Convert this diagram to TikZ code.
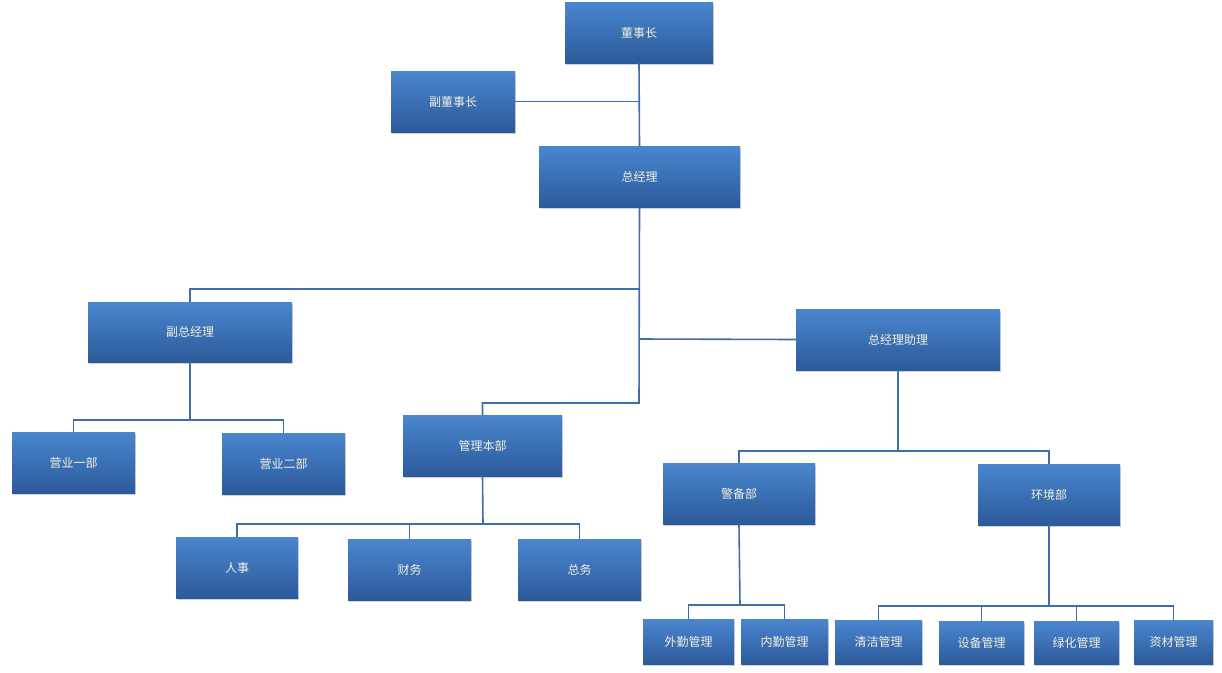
\documentclass[tikz,border=0pt]{standalone}
\usepackage{fontspec}
\setmainfont{Noto Sans CJK SC}
\usetikzlibrary{shadows}
\definecolor{BoxTop}{HTML}{4A86CF}
\definecolor{BoxBottom}{HTML}{2C5A9A}
\definecolor{LineBlue}{HTML}{3F6DAA}
\definecolor{TextLight}{HTML}{F4F1DC}
\tikzset{
    box/.style={draw=none, top color=BoxTop, bottom color=BoxBottom, text=TextLight,
        font=\fontsize{12}{14}\selectfont, inner sep=0pt, drop shadow={shadow xshift=1pt, shadow yshift=-1.5pt, opacity=0.35}},
    link/.style={draw=LineBlue, line width=1.6pt}
}
% box at l,t,r,b pixel edges
\newcommand{\orgbox}[6]{%
    \node[box, minimum width=#4-#2, minimum height=#5-#3] (#1) at ({(#2+#4)/2},{(#3+#5)/2}) {#6};
}
\begin{document}
\begin{tikzpicture}[x=1pt, y=-1pt]
\useasboundingbox (0,0) rectangle (1222,672);
\fill[white] (0,0) rectangle (1222,672);

\orgbox{dsz}{565}{2}{713}{63}{董事长}
\orgbox{fdsz}{391}{71}{515}{132}{副董事长}
\orgbox{zjl}{539}{146}{740}{207}{总经理}
\orgbox{fzjl}{88}{302}{292}{362}{副总经理}
\orgbox{zl}{796}{309}{1000}{370}{总经理助理}
\orgbox{yy1}{12}{432}{135}{493}{营业一部}
\orgbox{yy2}{222}{433}{345}{494}{营业二部}
\orgbox{glbb}{403}{415}{562}{476}{管理本部}
\orgbox{jbb}{663}{463}{815}{524}{警备部}
\orgbox{hjb}{978}{464}{1120}{525}{环境部}
\orgbox{rs}{176}{537}{298}{598}{人事}
\orgbox{cw}{348}{539}{471}{600}{财务}
\orgbox{zw}{518}{539}{641}{600}{总务}
\orgbox{wq}{643}{619}{734}{664}{外勤管理}
\orgbox{nq}{741}{619}{828}{664}{内勤管理}
\orgbox{qj}{835}{620}{922}{664}{清洁管理}
\orgbox{sb}{939}{621}{1024}{664}{设备管理}
\orgbox{lh}{1034}{621}{1119}{664}{绿化管理}
\orgbox{zc}{1134}{620}{1213}{664}{资材管理}

% upper trunk
\draw[link] (dsz.south) -- (zjl.north);
\draw[link] (fdsz.east) -- (dsz.south |- fdsz.east);
\draw[link] (zjl.south) -- (639,403) -| (glbb.north);
\draw[link] (639,289) -| (fzjl.north);
\draw[link] (639,339) -- (zl.west);

% 副总经理
\draw[link] (fzjl.south) -- (190,420);
\draw[link] (yy1.north) |- (190,420) -| (yy2.north);

% 管理本部
\draw[link] (glbb.south) -- (483,524);
\draw[link] (rs.north) |- (483,524) -| (zw.north);
\draw[link] (cw.north) -- (cw.north |- 0,524);

% 总经理助理
\draw[link] (zl.south) -- (898,451);
\draw[link] (jbb.north) |- (898,451) -| (hjb.north);

% 警备部
\draw[link] (jbb.south) -- (740,605);
\draw[link] (wq.north) |- (740,605) -| (nq.north);

% 环境部
\draw[link] (hjb.south) -- (1049,606);
\draw[link] (qj.north) |- (1049,606) -| (zc.north);
\draw[link] (sb.north) -- (sb.north |- 0,606);
\draw[link] (lh.north) -- (lh.north |- 0,606);

\end{tikzpicture}
\end{document}
